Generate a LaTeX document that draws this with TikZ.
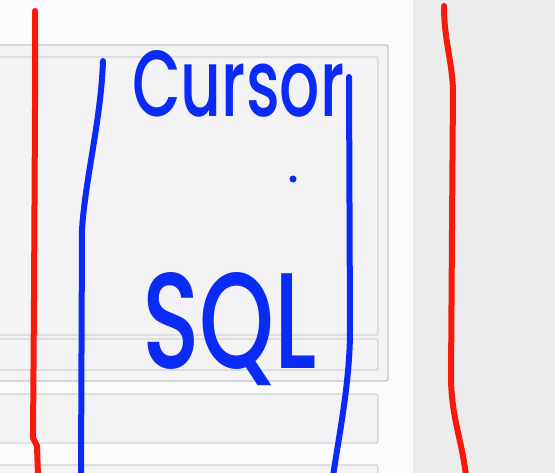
\documentclass[tikz,border=0pt]{standalone}
\usepackage{fontspec}
\setmainfont{Poppins}
\definecolor{pen}{HTML}{0A2BF5}
\definecolor{redpen}{HTML}{F51A0A}
\definecolor{panel}{HTML}{ECECEC}
\definecolor{page}{HTML}{FBFBFB}
\definecolor{boxfill}{HTML}{F3F3F5}
\definecolor{boxedge}{HTML}{C6C6C6}
\tikzset{
  ink/.style={draw=pen,line width=6pt,line cap=round,line join=round},
  redink/.style={draw=redpen,line width=6pt,line cap=round,line join=round},
  panelbox/.style={draw=boxedge,fill=boxfill,line width=1.4pt,rounded corners=2pt},
  hand/.style={text=pen,inner sep=0pt,anchor=north west,font=\fontspec{Poppins Medium}}
}
\begin{document}
\begin{tikzpicture}[x=1pt,y=-1pt]
\useasboundingbox (0,0) rectangle (555,473);
% backgrounds
\fill[page] (0,0) rectangle (413,473);
\fill[panel] (413,0) rectangle (555,473);
% UI boxes
\draw[panelbox] (-5,45) rectangle (388,381);
\draw[panelbox,draw=boxedge!75] (-5,57) rectangle (378,335);
\draw[panelbox,draw=boxedge!75] (-5,339) rectangle (378,370);
\draw[panelbox,draw=boxedge!75] (-5,394) rectangle (378,443);
\draw[panelbox,draw=boxedge!75] (-5,465) rectangle (378,480);
% red lines
\draw[redink] (35,11) -- (35,110) -- (34,300) -- (33,438) -- (37,446) -- (38,476);
\draw[redink] (444,6) .. controls (444,40) and (452,60) .. (453,90) -- (452,230) -- (451,380) .. controls (452,420) and (462,440) .. (466,476);
% blue brackets
\draw[ink] (103,61) .. controls (101,120) and (85,180) .. (82,230) -- (81,476);
\draw[ink] (349,77) -- (350,330) .. controls (350,380) and (340,430) .. (333,476);
% dot
\fill[pen] (293,179) circle (3.5pt);
% handwritten texts
\node[hand] (cursor) at (132,50) {\resizebox{212pt}{66pt}{Cursor}};
\node[hand] (sql) at (142,272) {\resizebox{175pt}{96pt}{SQL}};
\end{tikzpicture}
\end{document}
